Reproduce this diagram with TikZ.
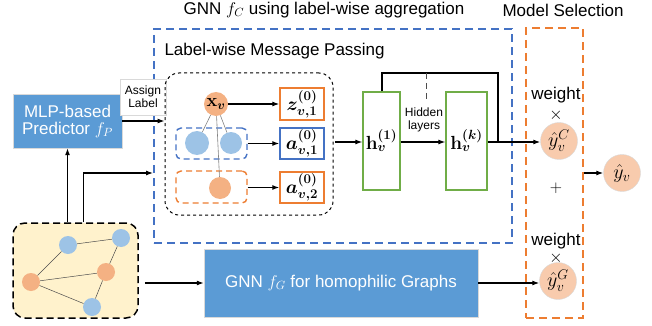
\documentclass[tikz,border=0pt]{standalone}
\usepackage{fix-cm}
\usepackage{amsmath,bm}
\usepackage[no-math]{fontspec}
\setmainfont{Liberation Sans}
\usetikzlibrary{arrows.meta,positioning}

\definecolor{boxblue}{HTML}{5B9BD5}
\definecolor{dashblue}{HTML}{4472C4}
\definecolor{dashorange}{HTML}{ED7D31}
\definecolor{nodeorange}{HTML}{F4B183}
\definecolor{nodeblue}{HTML}{9DC3E6}
\definecolor{predorange}{HTML}{F8CBAD}
\definecolor{layergreen}{HTML}{70AD47}
\definecolor{graphyellow}{HTML}{FFF2CC}

\begin{document}
\begin{tikzpicture}[
                x=1pt,y=-1pt,
                every node/.style={font=\fontsize{17}{19}\selectfont},
                arrow/.style={-{Latex[length=7pt,width=5pt]},line width=1.1pt},
                model/.style={rectangle,draw=black!15,fill=boxblue,text=white,align=center,inner sep=0pt},
                region/.style={rectangle,dashed,line width=1.6pt,dash pattern=on 8pt off 5pt,inner sep=0pt},
                labelgroup/.style={rectangle,rounded corners=5pt,dashed,line width=1.4pt,dash pattern=on 6pt off 4pt,inner sep=0pt,minimum width=71,minimum height=31},
                feat/.style={circle,inner sep=0pt,minimum size=22},
                embbox/.style={rectangle,line width=1.4pt,fill=white,inner sep=0pt,minimum width=44,minimum height=31,font=\fontsize{19}{21}\selectfont},
                layerbox/.style={rectangle,draw=layergreen,line width=1.3pt,inner sep=0pt,minimum height=98,font=\fontsize{19}{21}\selectfont},
                pred/.style={circle,draw=black!15,fill=predorange,inner sep=0pt,minimum size=37,font=\fontsize{20}{22}\selectfont},
                gnode/.style={circle,inner sep=0pt,minimum size=18},
                smalltext/.style={font=\fontsize{12}{13}\selectfont,align=center},
                sellabel/.style={inner sep=0pt}
            ]
            \useasboundingbox (0,0) rectangle (652,326);

            % titles
            \node (titleC) at (324,10) {GNN $f_C$ using label-wise aggregation};
            \node (titleMS) at (563,10) {Model Selection};

            % dashed regions
            \node[region,draw=dashblue,minimum width=358,minimum height=214] (lwa) at (333,136) {};
            \node[region,draw=dashorange,minimum width=57,minimum height=290] (msel) at (554.5,173) {};
            \node[anchor=west] (lmp) at (161,51) {Label-wise Message Passing};

            % predictor
            \node[model,minimum width=109,minimum height=54] (mlp) at (67.5,121) {MLP-based\\[-2pt]Predictor $f_P$};
            \node[smalltext,draw=black!15,fill=white,minimum width=46,minimum height=36,inner sep=1pt] (assign) at (143,97) {Assign\\Label};

            % message passing block
            \node[rectangle,draw,dashed,line width=1pt,rounded corners=14pt,minimum width=168,minimum height=142,inner sep=0pt] (msgbox) at (249,144) {};
            \node[labelgroup,draw=dashblue] (bgroup) at (211.5,143.5) {};
            \node[labelgroup,draw=dashorange,minimum height=32] (ogroup) at (211.5,187) {};
            \node[feat,fill=nodeorange,minimum size=24,font=\fontsize{18}{20}\selectfont] (xv) at (216,104) {$\mathbf{x}_{\bm{v}}$};
            \node[feat,fill=nodeblue,minimum size=24] (b1) at (197,143) {};
            \node[feat,fill=nodeblue] (b2) at (231,143) {};
            \node[feat,fill=nodeorange] (o1) at (220,188) {};
            \draw[black!50,line width=0.6pt] (xv) -- (b1);
            \draw[black!50,line width=0.6pt] (xv) -- (b2);
            \draw[black!50,line width=0.6pt] (xv) -- (o1);

            \node[embbox,draw=dashorange,minimum height=32] (z1) at (302,104) {$\bm{z}^{\bm{(0)}}_{\bm{v,1}}$};
            \node[embbox,draw=dashblue] (a1) at (302,143.5) {$\bm{a}^{\bm{(0)}}_{\bm{v,1}}$};
            \node[embbox,draw=dashorange] (a2) at (302,187.5) {$\bm{a}^{\bm{(0)}}_{\bm{v,2}}$};
            \draw[arrow] (xv) -- (z1);
            \draw[arrow] (bgroup) -- (a1);
            \draw[arrow] (ogroup.east |- a2) -- (a2);

            % GNN layers
            \node[layerbox,minimum width=37] (h1) at (381.5,141) {$\mathbf{h}_{\bm{v}}^{\bm{(1)}}$};
            \node[layerbox,minimum width=41] (hk) at (466.5,141) {$\mathbf{h}_{\bm{v}}^{\bm{(k)}}$};
            \node[smalltext] (hidden) at (424,120) {Hidden\\layers};
            \coordinate (skipL) at (382,73);
            \coordinate (skipR) at (498,73);
            \coordinate (skipD) at (498,142);
            \coordinate (dashT) at (426,73);
            \coordinate (dashB) at (426,100);
            \coordinate (msgout) at (335,142);
            \draw[arrow] (msgout) -- (h1.west |- msgout);
            \draw[arrow] (h1.east |- msgout) -- (hk.west |- msgout);
            \draw[line width=1.1pt] (h1.north -| skipL) -- (skipL) -- (skipR) -- (skipD);
            \draw[black!70,line width=1pt,dashed,dash pattern=on 6pt off 4pt] (dashT) -- (dashB);

            % model selection
            \node[pred] (yC) at (559,141) {$\hat{y}_v^C$};
            \node[pred] (yG) at (558,281) {$\hat{y}_v^G$};
            \node[pred] (yv) at (622,173) {$\hat{y}_v$};
            \node[sellabel] (w1) at (556,95) {weight};
            \node[sellabel] (x1) at (556,115) {$\times$};
            \node[sellabel] (plus) at (556,188) {$+$};
            \node[sellabel] (w2) at (556,241) {weight};
            \node[sellabel] (x2) at (556,258) {$\times$};
            \draw[arrow] (hk.east |- msgout) -- (yC.west |- msgout);
            \draw[arrow] (msel.east |- yv) -- (yv);

            % input graph
            \node[rectangle,draw,fill=graphyellow,dashed,line width=1.5pt,dash pattern=on 7pt off 4pt,rounded corners=12pt,minimum width=125,minimum height=95,inner sep=0pt] (graph) at (75.5,270.5) {};
            \node[gnode,fill=nodeblue] (g1) at (68,245) {};
            \node[gnode,fill=nodeblue] (g2) at (121,238) {};
            \node[gnode,fill=nodeorange] (g3) at (106,272) {};
            \node[gnode,fill=nodeorange] (g4) at (31,282) {};
            \node[gnode,fill=nodeblue] (g5) at (92,307) {};
            \draw[black!70,line width=0.5pt] (g1) -- (g2);
            \draw[black!70,line width=0.5pt] (g1) -- (g4);
            \draw[black!70,line width=0.5pt] (g4) -- (g3);
            \draw[black!70,line width=0.5pt] (g4) -- (g5);
            \draw[black!70,line width=0.5pt] (g5) -- (g3);
            \draw[black!70,line width=0.5pt] (g3) -- (g2);

            \node[model,minimum width=274,minimum height=68] (gnnG) at (341,283) {GNN $f_G$ for homophilic Graphs};

            \coordinate (featin) at (153,173);
            \draw[arrow] (mlp.south |- graph.north) -- (mlp.south);
            \draw[arrow] ([xshift=8pt]graph.north) |- (featin);
            \draw[arrow] (mlp.east) -- (mlp.east -| msgbox.west);
            \draw[arrow] ([xshift=6pt]graph.east |- gnnG.west) -- (gnnG.west);
            \draw[arrow] (gnnG.east) -- (gnnG.east -| yG.west);

        \end{tikzpicture}
\end{document}
